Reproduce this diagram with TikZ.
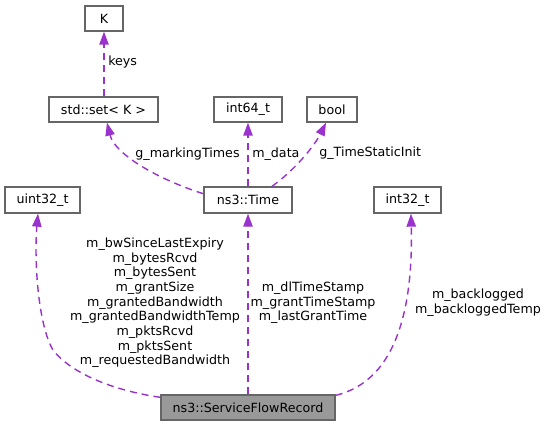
\documentclass[tikz,border=0pt]{standalone}
\usepackage{fontspec}
\setmainfont{DejaVu Sans}
\usetikzlibrary{arrows.meta}
\definecolor{edgecol}{HTML}{9A32CD}
\definecolor{boxline}{HTML}{666666}
\definecolor{boxfill}{HTML}{999999}
\begin{document}
\begin{tikzpicture}[x=0.75pt,y=-0.75pt,
  font=\fontsize{9.5}{11}\selectfont,
  box/.style={draw=boxline,line width=1pt,fill=white,inner sep=0pt,minimum height=18.75pt},
  mainbox/.style={box,fill=boxfill},
  edge/.style={draw=edgecol,line width=1.05pt,dash pattern=on 5.25pt off 3.75pt,
    -{Triangle[length=9.75pt,width=7pt,fill=edgecol]}},
  lbl/.style={inner sep=0pt,align=center}]
\path[use as bounding box] (0,0) rectangle (549,427);
% nodes
\node[box,minimum width=28.5pt] (K) at (104,18.5) {K};
\node[box,minimum width=81.75pt] (set) at (103.5,109.5) {std::set< K >};
\node[box,minimum width=51pt] (i64) at (248,109.5) {int64\_t};
\node[box,minimum width=37.5pt] (bool) at (332,109.5) {bool};
\node[box,minimum width=56.25pt,minimum height=19.5pt] (u32) at (42.5,200) {uint32\_t};
\node[box,minimum width=66pt,minimum height=19.5pt] (time) at (248,200) {ns3::Time};
\node[box,minimum width=50.25pt,minimum height=19.5pt] (i32) at (407.5,200) {int32\_t};
\node[mainbox,minimum width=130.5pt] (sfr) at (248,407.5) {ns3::ServiceFlowRecord};
% edges
\draw[edge] (set.north -| K.south) -- (K.south);
\draw[edge] (time.172) .. controls (160,180) and (115,155) .. ([xshift=2.6pt]set.south);
\draw[edge] (time.north) -- (i64.south);
\draw[edge] ([xshift=18pt]time.north) .. controls (295,170) and (315,145) .. ([xshift=-4.5pt]bool.south);
\draw[edge] (sfr.north) -- (time.south);
\draw[edge] ([yshift=-2.25pt]sfr.north west) .. controls (110,390) and (70,372) .. (53,350)
   .. controls (38,325) and (34,260) .. ([xshift=-3.4pt]u32.south);
\draw[edge] ([yshift=-0.75pt]sfr.north east) .. controls (400,380) and (413,300) .. ([xshift=2.6pt]i32.south);
% labels
\node[lbl,anchor=west] (lkeys) at (108,62) {keys};
\node[lbl] (lmark) at (187.5,154) {g\_markingTimes};
\node[lbl,anchor=west] (ldata) at (252,154) {m\_data};
\node[lbl,anchor=west] (lstatic) at (319,153) {g\_TimeStaticInit};
\node[lbl] (lu32) at (155,303) {m\_bwSinceLastExpiry\\m\_bytesRcvd\\m\_bytesSent\\m\_grantSize\\m\_grantedBandwidth\\m\_grantedBandwidthTemp\\m\_pktsRcvd\\m\_pktsSent\\m\_requestedBandwidth};
\node[lbl] (ltime) at (313,303) {m\_dlTimeStamp\\m\_grantTimeStamp\\m\_lastGrantTime};
\node[lbl] (li32) at (478,303) {m\_backlogged\\m\_backloggedTemp};
\end{tikzpicture}
\end{document}
